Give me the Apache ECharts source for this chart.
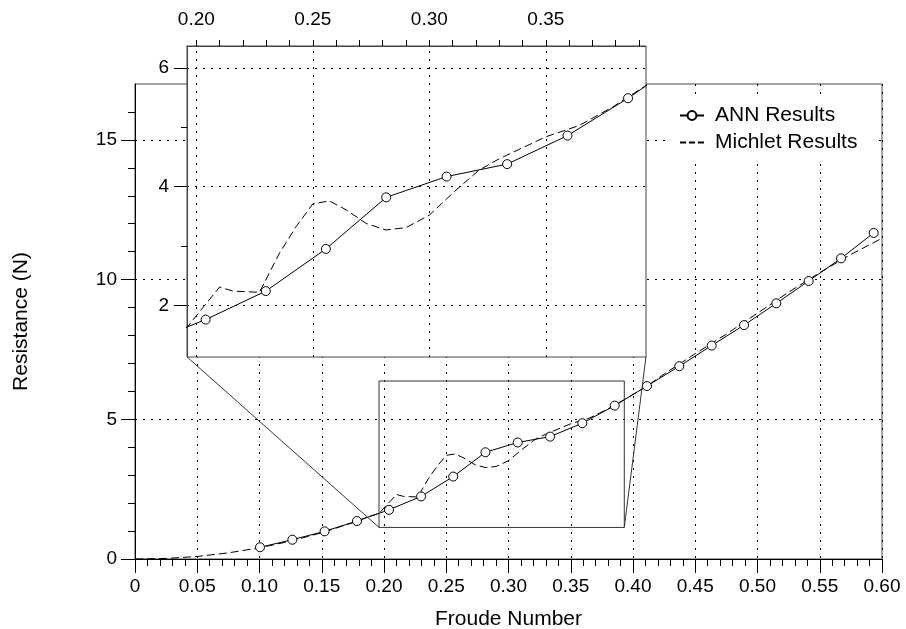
<!DOCTYPE html>
<html>
<head>
<meta charset="utf-8">
<script src="https://cdn.jsdelivr.net/npm/echarts@6/dist/echarts.min.js"></script>
<style>
  html, body { margin: 0; padding: 0; background: #fff; }
  #chart { width: 906px; height: 629px; }
</style>
</head>
<body>
<div id="chart"></div>
<script>
// ANN results (circles)
var annFn = [0.1004, 0.1264, 0.1523, 0.1783, 0.2040, 0.2298, 0.2556, 0.2815, 0.3074, 0.3334,
             0.3593, 0.3853, 0.4112, 0.4372, 0.4632, 0.4892, 0.5151, 0.5411, 0.5671, 0.5933];
var annR = [0.42, 0.69, 0.99, 1.36, 1.76, 2.24, 2.95, 3.82, 4.17, 4.38,
            4.86, 5.49, 6.19, 6.90, 7.64, 8.37, 9.15, 9.95, 10.76, 11.67];

// Michlet results (dashed)
var michFn = [0, 0.025, 0.05, 0.075, 0.10, 0.125, 0.15, 0.175, 0.19, 0.196, 0.21, 0.2157, 0.2271,
              0.2357, 0.2429, 0.25, 0.2571, 0.2643, 0.2729, 0.2814, 0.29, 0.30, 0.3114, 0.3214,
              0.33, 0.35, 0.3643, 0.3786, 0.3924, 0.41, 0.425, 0.45, 0.475, 0.50, 0.525, 0.55,
              0.575, 0.60];
var michR = [0, 0.02, 0.09, 0.22, 0.40, 0.64, 0.94, 1.30, 1.55, 1.63, 2.31, 2.24, 2.22,
             2.88, 3.33, 3.71, 3.76, 3.61, 3.38, 3.27, 3.31, 3.52, 3.94, 4.28,
             4.47, 4.84, 5.03, 5.34, 5.69, 6.15, 6.62, 7.35, 8.05, 8.80, 9.55, 10.25,
             10.90, 11.48];

// zoomed window shown in the inset
var zoomX = [0.196, 0.393];
var zoomY = [1.13, 6.37];
// inset bottom corners in main-plot coordinates
var insetBottomY = 7.23;
var insetLeftX = 0.0418;
var insetRightX = 0.4104;

// tick values
var mainYMajor = [0, 5, 10, 15];
var mainYMinor = [1, 2, 3, 4, 6, 7, 8, 9, 11, 12, 13, 14, 16];
var insetXLabels = [0.20, 0.25, 0.30, 0.35];
var insetXTicks = [0.20, 0.21, 0.22, 0.23, 0.24, 0.25, 0.26, 0.27, 0.28, 0.29,
                   0.30, 0.31, 0.32, 0.33, 0.34, 0.35, 0.36, 0.37, 0.38, 0.39];
var insetYMajor = [2, 4, 6];
var insetYMinor = [3, 5];

var FONT = 'Liberation Sans, Arial, Helvetica, sans-serif';
var dotted = { color: '#000', width: 1, type: [2, 6] };
var label = { color: '#000', fontSize: 19, fontFamily: FONT };
var nameFont = { color: '#000', fontSize: 21, fontFamily: FONT };

function pairs(xs, ys) {
  return xs.map(function (x, i) { return [x, ys[i]]; });
}
var annData = pairs(annFn, annR);
var michData = pairs(michFn, michR);

var chart = echarts.init(document.getElementById('chart'), null, { renderer: 'canvas' });

var annStyle = {
  type: 'line', name: 'ANN Results', symbol: 'circle', symbolSize: 9,
  itemStyle: { color: '#fff', borderColor: '#000', borderWidth: 1 },
  lineStyle: { color: '#000', width: 1 },
  animation: false
};
var michStyle = {
  type: 'line', name: 'Michlet Results', showSymbol: false, symbol: 'none',
  itemStyle: { color: '#000' },
  lineStyle: { color: '#000', width: 1, type: [8, 4] },
  animation: false
};
function frameLine(data) {
  return {
    type: 'line', data: data, showSymbol: false, symbol: 'none', silent: true,
    lineStyle: { color: '#333', width: 1 }, xAxisIndex: 0, yAxisIndex: 0,
    clip: false, animation: false, z: 3
  };
}

var option = {
  backgroundColor: '#fff',
  animation: false,
  textStyle: { fontFamily: FONT },
  grid: [
    { left: 135, right: 24, top: 84, bottom: 70, show: true, borderColor: '#444', borderWidth: 1,
      backgroundColor: 'transparent', outerBoundsMode: 'none', containLabel: false },
    { left: 187, top: 46, width: 459, height: 311, show: true, borderColor: '#444', borderWidth: 1,
      backgroundColor: '#fff', z: 5, outerBoundsMode: 'none', containLabel: false }
  ],
  legend: {
    left: 669, top: 95, padding: [10, 18, 10, 10], backgroundColor: '#fff',
    orient: 'vertical', itemWidth: 24, itemHeight: 11, itemGap: 6,
    data: [
      { name: 'ANN Results' },
      { name: 'Michlet Results', itemStyle: { opacity: 0 }, lineStyle: { type: [6, 3] } }
    ],
    textStyle: { color: '#000', fontSize: 21, fontFamily: FONT, lineHeight: 21, padding: [0, 0, 0, 6] },
    z: 10
  },
  xAxis: [
    { type: 'value', gridIndex: 0, min: 0, max: 0.6, interval: 0.05,
      name: 'Froude Number', nameLocation: 'middle', nameGap: 50,
      nameTextStyle: nameFont,
      axisLine: { lineStyle: { color: '#000' } },
      axisTick: { length: 14, lineStyle: { color: '#000' } },
      minorTick: { show: true, splitNumber: 5, length: 7, lineStyle: { color: '#000' } },
      axisLabel: Object.assign({ margin: 18, formatter: function (v) { return v === 0 ? '0' : v.toFixed(2); } }, label),
      splitLine: { show: true, lineStyle: dotted } },
    { type: 'value', gridIndex: 1, position: 'top', min: zoomX[0], max: zoomX[1],
      axisLine: { onZero: false, lineStyle: { color: '#444' } },
      axisTick: { length: 6, customValues: insetXTicks, lineStyle: { color: '#000' } },
      axisLabel: Object.assign({ margin: 17, customValues: insetXLabels,
        formatter: function (v) { return v.toFixed(2); } }, label),
      splitLine: { show: false }, z: 6 }
  ],
  yAxis: [
    { type: 'value', gridIndex: 0, position: 'left', min: 0, max: 17,
      axisLine: { show: true, onZero: false, lineStyle: { color: '#000' } },
      axisTick: { show: true, length: 7, customValues: mainYMinor, lineStyle: { color: '#000' } },
      axisLabel: { show: false }, splitLine: { show: false } },
    { type: 'value', gridIndex: 0, position: 'left', min: 0, max: 17, interval: 5,
      name: 'Resistance (N)', nameLocation: 'middle', nameGap: 103, nameTextStyle: nameFont,
      axisLine: { show: true, onZero: false, lineStyle: { color: '#000' } },
      axisTick: { show: true, length: 14, customValues: mainYMajor, lineStyle: { color: '#000' } },
      axisLabel: Object.assign({ margin: 18, customValues: mainYMajor }, label),
      splitLine: { show: true, lineStyle: dotted } },
    { type: 'value', gridIndex: 1, position: 'left', min: zoomY[0], max: zoomY[1],
      axisLine: { show: true, onZero: false, lineStyle: { color: '#444' } },
      axisTick: { show: true, length: 13, customValues: insetYMajor, lineStyle: { color: '#000' } },
      axisLabel: Object.assign({ margin: 18, customValues: insetYMajor }, label),
      splitLine: { show: false }, z: 6 },
    { type: 'value', gridIndex: 1, position: 'left', min: zoomY[0], max: zoomY[1],
      axisLine: { show: false, onZero: false },
      axisTick: { show: true, length: 6, customValues: insetYMinor, lineStyle: { color: '#000' } },
      axisLabel: { show: false }, splitLine: { show: false }, z: 6 }
  ],
  series: [
    Object.assign({}, michStyle, { data: michData, xAxisIndex: 0, yAxisIndex: 0, z: 2 }),
    Object.assign({}, annStyle, { data: annData, xAxisIndex: 0, yAxisIndex: 0, z: 2 }),
    frameLine([[zoomX[0], zoomY[0]], [zoomX[1], zoomY[0]], [zoomX[1], zoomY[1]],
               [zoomX[0], zoomY[1]], [zoomX[0], zoomY[0]]]),
    frameLine([[insetLeftX, insetBottomY], [zoomX[0], zoomY[0]]]),
    frameLine([[insetRightX, insetBottomY], [zoomX[1], zoomY[0]]]),
    // inset: grid lines via markLine, then the two curves
    Object.assign({}, michStyle, { data: michData, xAxisIndex: 1, yAxisIndex: 2, z: 7,
      markLine: {
        silent: true, symbol: 'none', label: { show: false }, animation: false,
        lineStyle: dotted,
        data: insetXLabels.map(function (v) { return { xAxis: v }; })
          .concat(insetYMajor.map(function (v) { return { yAxis: v }; }))
      } }),
    Object.assign({}, annStyle, { data: annData, xAxisIndex: 1, yAxisIndex: 2, z: 8 })
  ]
};
chart.setOption(option);
</script>
</body>
</html>
